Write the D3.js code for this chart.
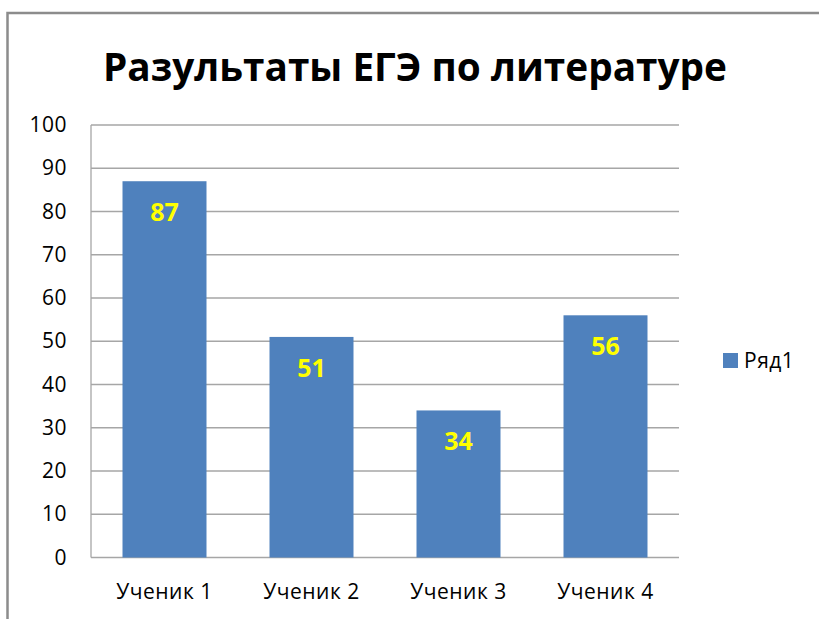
<!DOCTYPE html>
<html lang="ru">
<head>
    <meta charset="UTF-8">
    <title>Разультаты ЕГЭ по литературе</title>
    <script src="https://d3js.org/d3.v7.min.js"></script>
    <style>
        body { margin: 0; background: #fff; }
        text { font-family: "Open Sans", "Noto Sans", sans-serif; }
        .grid line { stroke: #a6a6a6; stroke-width: 1.3px; }
    </style>
</head>
<body>
    <div id="chart"></div>
    <script>
        // chart data
        const categories = ["Ученик 1", "Ученик 2", "Ученик 3", "Ученик 4"];
        const values = [87, 51, 34, 56];
        const yTicks = [0, 10, 20, 30, 40, 50, 60, 70, 80, 90, 100];
        const seriesName = "Ряд1";
        const title = "Разультаты ЕГЭ по литературе";

        const width = 819, height = 619;
        const plot = { left: 91, right: 679, top: 125, bottom: 557.5 };

        const svg = d3.select("#chart")
            .append("svg")
            .attr("width", width)
            .attr("height", height);

        // outer frame of the chart
        svg.append("rect")
            .attr("x", 7.5)
            .attr("y", 13)
            .attr("width", 830)
            .attr("height", 640)
            .attr("fill", "none")
            .attr("stroke", "#8c8c8c")
            .attr("stroke-width", 2.5);

        svg.append("text")
            .attr("x", 415)
            .attr("y", 81)
            .attr("text-anchor", "middle")
            .attr("font-size", 40)
            .attr("font-weight", "bold")
            .attr("textLength", 624)
            .attr("lengthAdjust", "spacingAndGlyphs")
            .text(title);

        const x = d3.scaleBand()
            .domain(categories)
            .range([plot.left, plot.right])
            .paddingInner(0.4286)
            .paddingOuter(0.2143);

        const y = d3.scaleLinear()
            .domain([0, 100])
            .range([plot.bottom, plot.top]);

        // horizontal gridlines
        svg.append("g")
            .attr("class", "grid")
            .selectAll("line")
            .data(yTicks)
            .join("line")
            .attr("x1", plot.left)
            .attr("x2", plot.right)
            .attr("y1", d => y(d))
            .attr("y2", d => y(d));

        // left axis line
        svg.append("line")
            .attr("x1", plot.left)
            .attr("x2", plot.left)
            .attr("y1", plot.top)
            .attr("y2", plot.bottom)
            .attr("stroke", "#a6a6a6")
            .attr("stroke-width", 1.3);

        const yAxis = svg.append("g")
            .attr("transform", `translate(${plot.left},0)`)
            .call(d3.axisLeft(y).tickValues(yTicks).tickSize(0).tickPadding(24));
        yAxis.select(".domain").remove();
        yAxis.selectAll("text")
            .attr("font-size", 21)
            .attr("fill", "#000")
            .attr("letter-spacing", 0.5)
            .style("font-family", "'Open Sans', sans-serif");

        const xAxis = svg.append("g")
            .attr("transform", `translate(0,${plot.bottom})`)
            .call(d3.axisBottom(x).tickSize(0).tickPadding(27));
        xAxis.select(".domain").remove();
        xAxis.selectAll("text")
            .attr("font-size", 21)
            .attr("fill", "#000")
            .attr("letter-spacing", 0.5)
            .style("font-family", "'Open Sans', sans-serif");

        const data = categories.map((c, i) => ({ cat: c, value: values[i] }));

        svg.append("g")
            .selectAll("rect")
            .data(data)
            .join("rect")
            .attr("x", d => x(d.cat))
            .attr("y", d => y(d.value))
            .attr("width", x.bandwidth())
            .attr("height", d => y(0) - y(d.value))
            .attr("fill", "#4f81bd");

        svg.append("g")
            .selectAll("text")
            .data(data)
            .join("text")
            .attr("x", d => x(d.cat) + x.bandwidth() / 2)
            .attr("y", d => y(d.value) + 40)
            .attr("text-anchor", "middle")
            .attr("font-size", 25)
            .attr("font-weight", "bold")
            .attr("fill", "#ffff00")
            .text(d => d.value);

        // legend
        const legend = svg.append("g").attr("transform", "translate(723,353)");
        legend.append("rect")
            .attr("width", 15)
            .attr("height", 15)
            .attr("fill", "#4f81bd");
        legend.append("text")
            .attr("x", 21)
            .attr("y", 15)
            .attr("font-size", 21)
            .attr("letter-spacing", 0.5)
            .text(seriesName);
    </script>
</body>
</html>
